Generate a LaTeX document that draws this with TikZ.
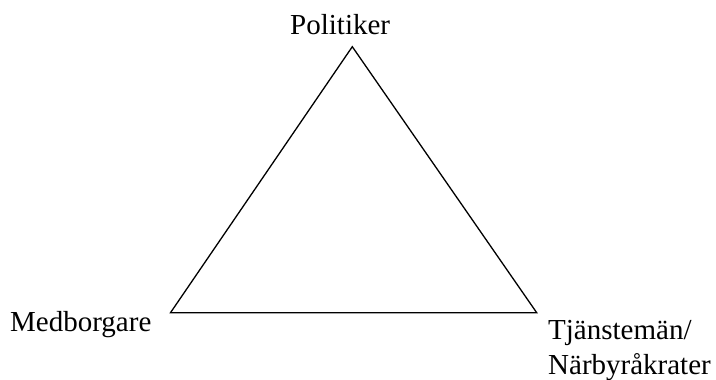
\documentclass[tikz,border=0pt]{standalone}
\usepackage{fontspec}
\setmainfont{Liberation Serif}
\begin{document}
\begin{tikzpicture}[x=1pt,y=1pt,
  lbl/.style={anchor=base west,inner sep=0pt,font=\fontsize{29}{34}\selectfont},
  edge/.style={draw=black,line width=1.3pt,line join=miter}]
\useasboundingbox (0,0) rectangle (716,380);
\coordinate (top) at (352.3,333.3);
\coordinate (bl) at (170.5,67.3);
\coordinate (br) at (536.7,67.3);
\draw[edge] (top) -- (bl) -- (br) -- cycle;
\node[lbl] (pol) at (290,345.7) {Politiker};
\node[lbl] (med) at (10,48.3) {Medborgare};
\node[lbl] (tja) at (548,40.5) {Tjänstemän/};
\node[lbl] (nar) at (548,5.5) {Närbyråkrater};
\end{tikzpicture}
\end{document}
